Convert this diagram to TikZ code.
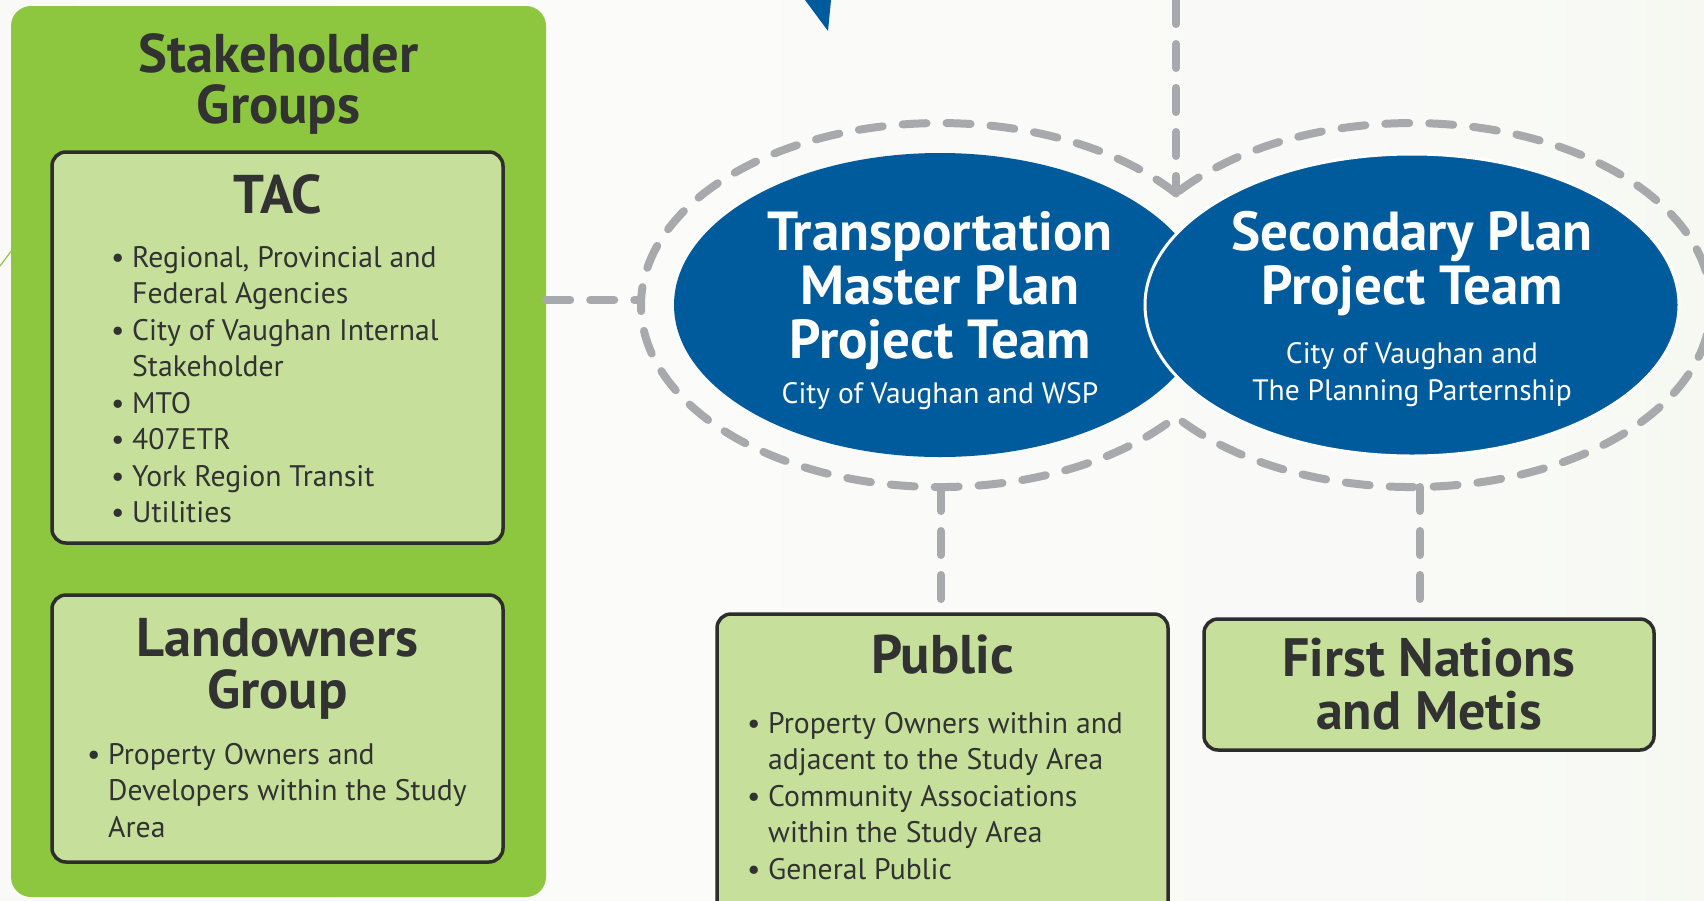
\documentclass[tikz,border=0pt]{standalone}
\usepackage{fontspec}
\setmainfont{PT Sans}
\usetikzlibrary{shapes.geometric}
\definecolor{panelgreen}{RGB}{141,198,63}
\definecolor{boxgreen}{RGB}{198,224,155}
\definecolor{boxline}{RGB}{45,45,45}
\definecolor{ink}{RGB}{50,50,50}
\definecolor{teamblue}{RGB}{0,91,156}
\definecolor{dashgray}{RGB}{167,169,172}
\pgfdeclarehorizontalshading{bgshade}{100bp}{rgb(0bp)=(0.93,0.945,0.91); rgb(1bp)=(0.965,0.97,0.955); rgb(40bp)=(0.985,0.985,0.98); rgb(70bp)=(0.975,0.98,0.965); rgb(100bp)=(0.905,0.93,0.845)}
\newcommand{\cstack}[1]{\vtop{\halign{\hfil##\hfil\cr#1\crcr}}}
\newcommand{\lstack}[1]{\vtop{\halign{##\hfil\cr#1\crcr}}}
\newcommand{\bul}{\hbox to 21pt{\textbullet\hss}}
\newcommand{\ind}{\hbox to 21pt{\hss}}
\tikzset{
  panel/.style={rectangle, rounded corners=20pt, fill=panelgreen, inner sep=0pt},
  grpbox/.style={rectangle, rounded corners=14pt, fill=boxgreen, draw=boxline, line width=3.5pt, inner sep=0pt},
  team/.style={ellipse, fill=teamblue, inner sep=0pt},
  head/.style={text=ink, inner sep=0pt, anchor=base},
  listtext/.style={text=ink, font=\fontsize{29.7}{36.5}\selectfont, inner sep=0pt, anchor=base west},
  wtitle/.style={text=white, inner sep=0pt, anchor=base},
  wsub/.style={text=white, font=\fontsize{29.5}{37}\selectfont, inner sep=0pt, anchor=base},
  conn/.style={draw=dashgray, line width=8pt, line cap=round, dash pattern=on 24pt off 20pt},
}
\begin{document}
\begin{tikzpicture}[x=1pt, y=-1pt]
\useasboundingbox (0,0) rectangle (1704,900);
\clip (0,0) rectangle (1704,900);
\shade[shading=bgshade] (0,0) rectangle (1704,900);
\draw[panelgreen, line width=1.2pt] (0,266) -- (12,250);
\fill[teamblue] (805,0) -- (831,0) -- (828,31) -- cycle;

% panel and boxes
\node[panel, minimum width=535pt, minimum height=891pt] (panel) at (278.5,451.5) {};
\node[grpbox, minimum width=451pt, minimum height=391pt] (tac) at (277.5,347.5) {};
\node[grpbox, minimum width=451pt, minimum height=267pt] (land) at (277.5,728.5) {};

% dashed ring and connectors
\coordinate (ringT) at (1176,193.3);
\coordinate (ringL) at (641,300);
\coordinate (ringB1) at (941,487);
\coordinate (ringB2) at (1420,487);
\coordinate (topin) at (1176,0);
\draw[conn] (ringT) arc[start angle=37.88, end angle=322.12, x radius=299pt, y radius=182pt]
                    arc[start angle=-142.12, end angle=142.12, x radius=299pt, y radius=182pt];
\draw[conn] (topin) -- (ringT);
\draw[conn] (panel.east |- ringL) -- (ringL);

\node[grpbox, minimum width=451pt, minimum height=301pt] (public) at (942.5,764.5) {};
\node[grpbox, minimum width=450pt, minimum height=131pt] (fn) at (1429,684.5) {};
\draw[conn] (ringB1) -- (ringB1 |- public.north);
\draw[conn] (ringB2) -- (ringB2 |- fn.north);

% team ellipses
\node[team, minimum width=532pt, minimum height=304pt] (tmp) at (940,305) {};
\node[team, draw=white, line width=3pt, minimum width=534pt, minimum height=302pt] (sec) at (1412,305) {};

% texts
\node[head, font=\fontsize{54.5}{51}\bfseries\selectfont] (stk) at (278.5,72) {\cstack{Stakeholder\cr Groups}};
\node[head, font=\fontsize{54.5}{52}\bfseries\selectfont] (tacname) at (277.5,213) {TAC};
\node[listtext] (taclist) at (111,267) {\lstack{%
\bul Regional, Provincial and\cr
\ind Federal Agencies\cr
\bul City of Vaughan Internal\cr
\ind Stakeholder\cr
\bul MTO\cr
\bul 407ETR\cr
\bul York Region Transit\cr
\bul Utilities}};
\node[head, font=\fontsize{54.5}{52}\bfseries\selectfont] (landname) at (277.5,656) {\cstack{Landowners\cr Group}};
\node[listtext] (landlist) at (87,764) {\lstack{%
\bul Property Owners and\cr
\ind Developers within the Study\cr
\ind Area}};
\node[head, font=\fontsize{54.5}{52}\bfseries\selectfont] (pubname) at (942.5,673) {Public};
\node[listtext] (publist) at (747,733) {\lstack{%
\bul Property Owners within and\cr
\ind adjacent to the Study Area\cr
\bul Community Associations\cr
\ind within the Study Area\cr
\bul General Public}};
\node[head, font=\fontsize{54}{53}\bfseries\selectfont] (fnname) at (1429,676) {\cstack{First Nations\cr and Metis}};

\node[wtitle, font=\fontsize{55}{54}\bfseries\selectfont] (tmpname) at (940,250) {\cstack{Transportation\cr Master Plan\cr Project Team}};
\node[wsub] (tmpsub) at (940,403) {City of Vaughan and WSP};
\node[wtitle, font=\fontsize{55}{54}\bfseries\selectfont] (secname) at (1412,250) {\cstack{Secondary Plan\cr Project Team}};
\node[wsub] (secsub) at (1412,363) {\cstack{City of Vaughan and\cr The Planning Parternship}};
\end{tikzpicture}
\end{document}
